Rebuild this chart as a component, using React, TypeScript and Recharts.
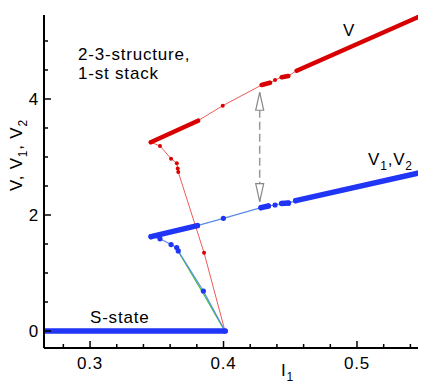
import React from 'react';
import { LineChart, Line, XAxis, YAxis } from 'recharts';

// ---- axis setup ----
const X_DOMAIN: [number, number] = [0.2655, 0.5457];
const Y_DOMAIN: [number, number] = [-0.293, 5.448];
const xTicks = [0.28, 0.3, 0.32, 0.34, 0.36, 0.38, 0.4, 0.42, 0.44, 0.46, 0.48, 0.5, 0.52, 0.54];
const xMajor = [0.3, 0.4, 0.5];
const xTickLabels = ['0.3', '0.4', '0.5'];
const yTicks = [0, 0.5, 1, 1.5, 2, 2.5, 3, 3.5, 4, 4.5, 5];
const yMajor = [0, 2, 4];
const yTickLabels = ['0', '2', '4'];

// ---- V (red), in drawing order ----
const vI = [0.4011, 0.3854, 0.3661, 0.3657, 0.365, 0.3607, 0.3524, 0.3455, 0.3809, 0.3994, 0.4286, 0.4348, 0.4386, 0.4436, 0.4485, 0.4548, 0.5455];
const vV = [0, 1.35, 2.74, 2.8, 2.89, 2.97, 3.19, 3.255, 3.626, 3.884, 4.241, 4.28, 4.328, 4.374, 4.397, 4.488, 5.409];
// dense runs of V points (start, end pairs)
const vDenseI = [0.3455, 0.3809, 0.4286, 0.4348, 0.4436, 0.4485, 0.4548, 0.5455];
const vDenseV = [3.255, 3.626, 4.241, 4.28, 4.374, 4.397, 4.488, 5.409];

// ---- V1 (blue), in drawing order ----
const v1I = [0.4011, 0.3849, 0.3661, 0.3649, 0.3607, 0.3524, 0.3457, 0.3804, 0.3999, 0.4281, 0.4336, 0.4386, 0.4436, 0.4486, 0.4541, 0.5455];
const v1V = [0, 0.69, 1.38, 1.44, 1.49, 1.59, 1.626, 1.816, 1.943, 2.126, 2.155, 2.172, 2.2, 2.205, 2.247, 2.719];
// dense runs of V1 points (start, end pairs), incl. the S-state
const v1DenseI = [0.2655, 0.4013, 0.3457, 0.3804, 0.4281, 0.4336, 0.4436, 0.4486, 0.4541, 0.5455];
const v1DenseV = [0, 0, 1.626, 1.816, 2.126, 2.155, 2.2, 2.205, 2.247, 2.719];

// ---- V2 (green) where it separates from V1 ----
const v2I = [0.3661, 0.3847, 0.4009];
const v2V = [1.37, 0.65, 0];

// ---- jump arrow ----
const arrowI = [0.4271, 0.4271];
const arrowV = [2.229, 4.116];

const pts = (xs: number[], ys: number[]) => xs.map((x, i) => ({ x, y: ys[i] }));
const runs = (xs: number[], ys: number[]) => {
  const out: { x: number; y: number | null }[] = [];
  for (let i = 0; i < xs.length; i += 2) {
    if (i > 0) out.push({ x: (xs[i - 1] + xs[i]) / 2, y: null });
    out.push({ x: xs[i], y: ys[i] });
    out.push({ x: xs[i + 1], y: ys[i + 1] });
  }
  return out;
};

const vData = pts(vI, vV);
const vDense = runs(vDenseI, vDenseV);
const v1Data = pts(v1I, v1V);
const v1Dense = runs(v1DenseI, v1DenseV);
const v2Data = pts(v2I, v2V);
const arrowData = pts(arrowI, arrowV);

const FONT = "'Liberation Sans', Arial, Helvetica, sans-serif";
const textStyle = { fontFamily: FONT, fontSize: 17, letterSpacing: 0.8, fill: '#000' } as const;

const near = (a: number, b: number) => Math.abs(a - b) < 1e-6;

const XTick = (props: any) => {
  const { x, y, payload } = props;
  const idx = xMajor.findIndex((m) => near(m, payload.value));
  const major = idx >= 0;
  return (
    <g>
      <line x1={x} x2={x} y1={y} y2={y - (major ? 7 : 4)} stroke="#000" strokeWidth={1.5} />
      {major && (
        <text x={x} y={y + 21} textAnchor="middle" style={textStyle}>
          {xTickLabels[idx]}
        </text>
      )}
    </g>
  );
};

const YTick = (props: any) => {
  const { x, y, payload } = props;
  const idx = yMajor.findIndex((m) => near(m, payload.value));
  const major = idx >= 0;
  return (
    <g>
      <line x1={x} x2={x + (major ? 7 : 4)} y1={y} y2={y} stroke="#000" strokeWidth={1.5} />
      {major && (
        <text x={x - 5} y={y + 6} textAnchor="end" style={textStyle}>
          {yTickLabels[idx]}
        </text>
      )}
    </g>
  );
};

const ArrowHead = (props: any) => {
  const { cx, cy, index } = props;
  if (cx == null || cy == null) return <g key={`ah-${index}`} />;
  const dir = index === 0 ? -1 : 1; // 0: bottom tip pointing down, 1: top tip pointing up
  const len = 18;
  const hw = 4;
  const by = cy + dir * len;
  return (
    <polygon
      key={`ah-${index}`}
      points={`${cx},${cy} ${cx - hw},${by} ${cx + hw},${by}`}
      fill="#fff"
      stroke="#888"
      strokeWidth={1.2}
    />
  );
};

export default function App() {
  return (
    <div style={{ position: 'absolute', left: 0, top: 0, width: 436, height: 388, background: '#fff' }}>
      <LineChart width={436} height={388} margin={{ top: 15, right: 18, bottom: 0, left: 14 }}>
        <XAxis
          type="number"
          dataKey="x"
          domain={X_DOMAIN}
          allowDataOverflow
          ticks={xTicks}
          interval={0}
          tickLine={false}
          tickSize={0}
          tickMargin={0}
          height={40}
          axisLine={{ stroke: '#000', strokeWidth: 2 }}
          tick={(p: any) => <XTick {...p} />}
        />
        <YAxis
          type="number"
          dataKey="y"
          domain={Y_DOMAIN}
          allowDataOverflow
          ticks={yTicks}
          interval={0}
          tickLine={false}
          tickSize={0}
          tickMargin={0}
          width={30}
          axisLine={{ stroke: '#000', strokeWidth: 2 }}
          tick={(p: any) => <YTick {...p} />}
        />
        <Line
          data={vData}
          dataKey="y"
          type="linear"
          stroke="#f05a5a"
          strokeWidth={1}
          dot={{ r: 2, fill: '#d80000', stroke: 'none' }}
          isAnimationActive={false}
        />
        <Line
          data={vDense}
          dataKey="y"
          type="linear"
          stroke="#d80000"
          strokeWidth={4.5}
          strokeLinecap="round"
          dot={false}
          connectNulls={false}
          isAnimationActive={false}
        />
        <Line
          data={v2Data}
          dataKey="y"
          type="linear"
          stroke="#3cc03c"
          strokeWidth={1.2}
          dot={false}
          isAnimationActive={false}
        />
        <Line
          data={v1Data}
          dataKey="y"
          type="linear"
          stroke="#5a8ae6"
          strokeWidth={1.2}
          dot={{ r: 2.6, fill: '#2035f5', stroke: 'none' }}
          isAnimationActive={false}
        />
        <Line
          data={v1Dense}
          dataKey="y"
          type="linear"
          stroke="#2035f5"
          strokeWidth={5.5}
          strokeLinecap="round"
          dot={false}
          connectNulls={false}
          isAnimationActive={false}
        />
        <Line
          data={arrowData}
          dataKey="y"
          type="linear"
          stroke="#999"
          strokeWidth={1.5}
          strokeDasharray="8 4"
          dot={(p: any) => <ArrowHead {...p} />}
          isAnimationActive={false}
        />
      </LineChart>
      <svg
        width={436}
        height={388}
        style={{ position: 'absolute', left: 0, top: 0, pointerEvents: 'none' }}
      >
        <text x={78} y={60} style={textStyle}>2-3-structure,</text>
        <text x={78} y={79} style={textStyle}>1-st stack</text>
        <text x={343} y={36} style={textStyle}>V</text>
        <text x={368} y={165} style={textStyle}>
          V<tspan dy={5} fontSize={12}>1</tspan>
          <tspan dy={-5}>,V</tspan>
          <tspan dy={5} fontSize={12}>2</tspan>
        </text>
        <text x={90} y={323} style={textStyle}>S-state</text>
        <text x={281} y={376} style={textStyle}>
          I<tspan dy={5} fontSize={12}>1</tspan>
        </text>
        <text x={22} y={155} transform="rotate(-90 22 155)" textAnchor="middle" style={textStyle}>
          V, V<tspan dy={5} fontSize={12}>1</tspan>
          <tspan dy={-5}>, V</tspan>
          <tspan dy={5} fontSize={12}>2</tspan>
        </text>
      </svg>
    </div>
  );
}
